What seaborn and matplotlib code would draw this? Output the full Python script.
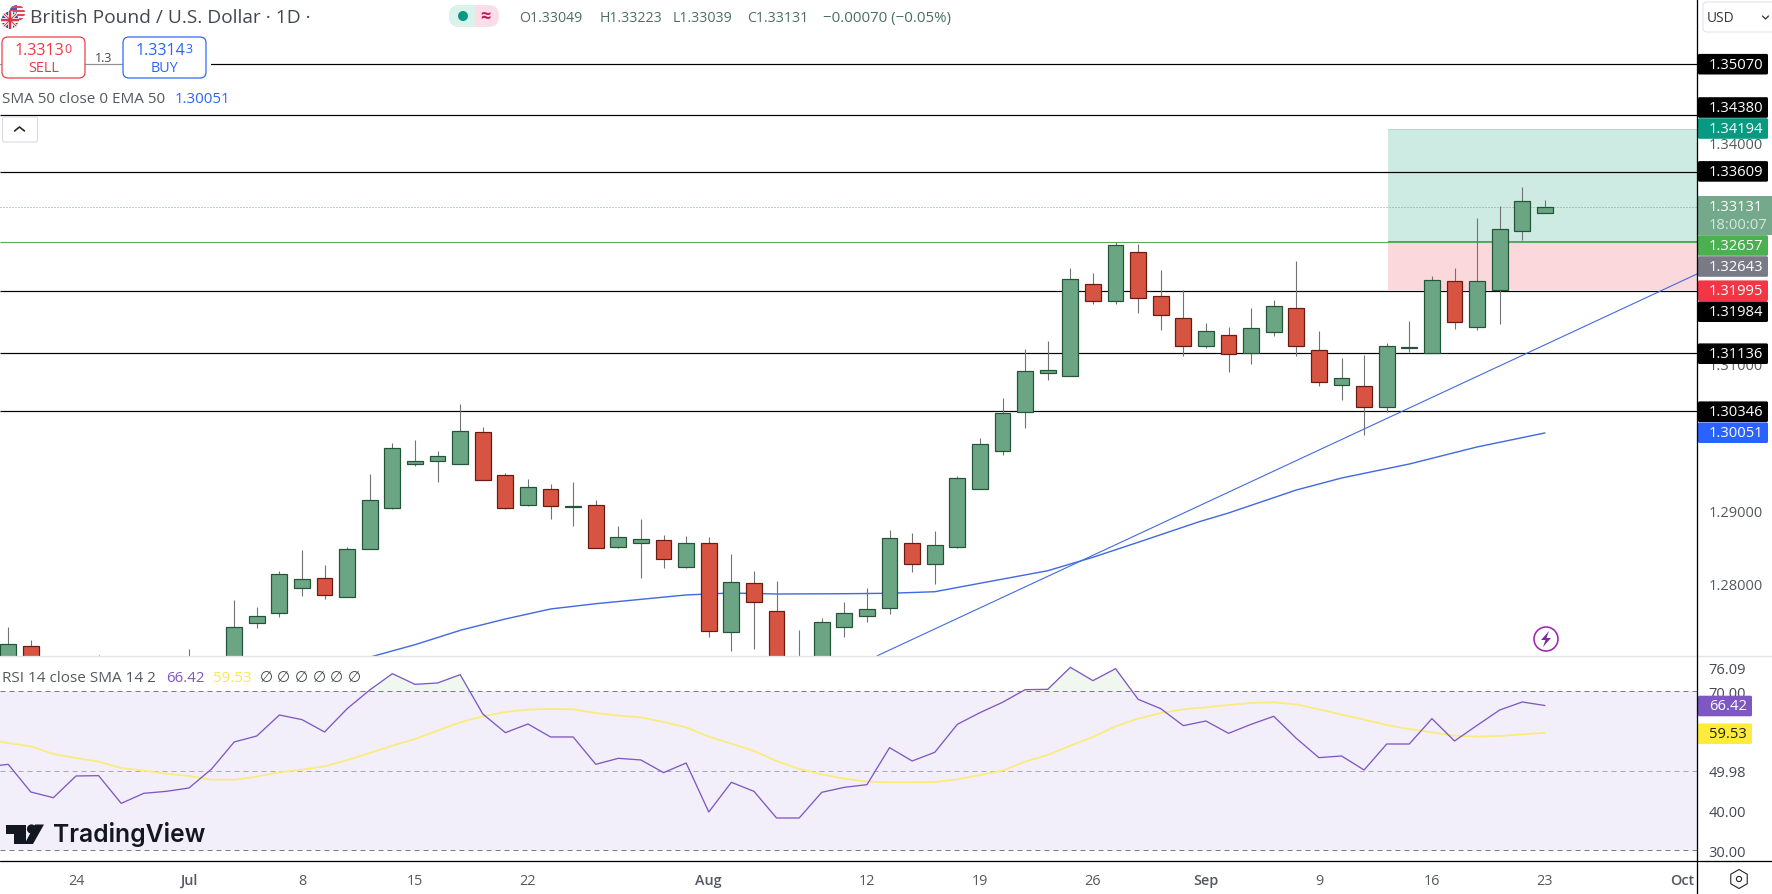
import matplotlib
matplotlib.use("Agg")
import matplotlib.pyplot as plt
from matplotlib.patches import Rectangle, FancyBboxPatch, Circle, Polygon, RegularPolygon
import pandas as pd
import seaborn as sns

# ---------- data ----------
candle_day = [-3,-2,1,5,7,8,9,10,11,12,13,14,15,16,17,18,19,20,21,22,23,24,25,26,27,28,29,30,31,32,33,34,35,36,37,38,39,40,
              41,42,43,44,45,46,47,48,49,50,51,52,53,54,55,56,57,58,59,60,61,62,63,64,65]
opens = [1.2660,1.27146,1.2680,1.2680,1.2680,1.27468,1.27595,1.27945,1.28072,1.27813,1.28467,1.29034,1.29633,1.29674,1.29633,1.30059,1.29474,1.29075,1.29283,1.29047,1.29066,1.28503,1.28548,1.28589,1.28231,1.28548,1.27346,1.28004,1.27623,1.2680,1.2690,1.27414,1.27564,1.27672,1.28548,1.28271,1.28503,1.29292,
         1.29810,1.30341,1.30872,1.30831,1.32074,1.31843,1.32510,1.31911,1.31611,1.31239,1.31380,1.31135,1.31421,1.31748,1.31176,1.30699,1.30686,1.30409,1.31212,1.31135,1.32115,1.31498,1.32002,1.32796,1.33049]
highs = [1.27409,1.27232,1.27028,1.27110,1.27777,1.27682,1.28167,1.28453,1.28253,1.28494,1.29492,1.29910,1.29955,1.29801,1.30445,1.30132,1.29506,1.29424,1.29356,1.29383,1.29138,1.28789,1.28880,1.28662,1.28648,1.28634,1.28403,1.28172,1.28036,1.27368,1.27532,1.27750,1.27940,1.28730,1.28694,1.28716,1.29460,1.29978,
         1.30527,1.31189,1.31298,1.32297,1.32229,1.32655,1.32623,1.32269,1.31993,1.31548,1.31489,1.31752,1.31857,1.32388,1.31434,1.31067,1.31112,1.31271,1.31571,1.32183,1.32292,1.32978,1.33136,1.33395,1.33223]
lows = [1.2650,1.2670,1.2660,1.2670,1.2675,1.27400,1.27550,1.27836,1.27795,1.27813,1.28467,1.29016,1.29606,1.29388,1.29633,1.29415,1.29016,1.29057,1.28880,1.28784,1.28489,1.28485,1.28081,1.28217,1.28217,1.27278,1.27087,1.27114,1.2670,1.2675,1.2680,1.27278,1.27482,1.27586,1.28163,1.27999,1.28485,1.29292,
        1.29755,1.30118,1.30776,1.30831,1.31811,1.31811,1.31689,1.31457,1.31103,1.31212,1.30885,1.30994,1.31375,1.31103,1.30695,1.30504,1.30028,1.30332,1.31158,1.31135,1.31471,1.31457,1.31539,1.32683,1.33039]
closes = [1.27173,1.2680,1.2670,1.2690,1.27405,1.27554,1.28126,1.28058,1.27849,1.28467,1.29134,1.29842,1.29665,1.29733,1.30073,1.29415,1.29034,1.29311,1.29061,1.29052,1.28489,1.28630,1.28603,1.28339,1.28548,1.27359,1.28017,1.27754,1.2680,1.2690,1.27473,1.27595,1.27650,1.28616,1.28271,1.28521,1.29433,1.29896,
          1.30318,1.30890,1.30904,1.32142,1.31852,1.32605,1.31893,1.31661,1.31239,1.31434,1.31121,1.31475,1.31775,1.31239,1.30740,1.30795,1.30409,1.31230,1.31217,1.32138,1.31566,1.32115,1.32823,1.33204,1.33131]

ema_day = [12,13.23,15,17.05,19,21,23,27,29,31,34,36,38,40,43,45,47,49.7,51,54,56,59,62,65]
ema_val = [1.26905,1.27018,1.27168,1.27368,1.27518,1.27654,1.27726,1.27845,1.27872,1.27858,1.27862,1.27868,1.27889,1.28004,1.28175,1.28358,1.28562,1.28842,1.28961,1.29274,1.29437,1.29628,1.29860,1.30051]
trend_day = [35.46,71.73]
trend_val = [1.27018,1.32215]

black_levels = [1.35070,1.34380,1.33609,1.31984,1.31136,1.30346]
entry_level = 1.32657
last_close = 1.33131
tp_level = 1.34194
sl_level = 1.31995
tool_start_day = 58.05

rsi_days = list(range(-4,66))
rsi_vals = [50.92,51.6,44.62,43.19,48.66,48.74,41.76,44.29,44.79,45.63,50.42,57.23,58.74,64.03,62.86,59.75,65.63,70.34,74.45,71.76,72.1,74.2,64.29,59.58,61.76,58.49,58.49,51.6,53.11,52.69,49.5,51.93,39.58,47.06,44.79,38.07,38.07,44.54,45.8,46.47,55.8,52.44,54.62,61.68,64.62,67.23,70.42,70.5,76.05,72.69,75.71,67.98,65.63,61.34,62.52,59.41,61.68,63.7,58.15,53.28,53.7,50.17,56.72,56.72,63.11,57.48,61.43,65.29,67.31,66.42]
sma_vals = [57.98,56.97,56.13,54.2,53.19,52.27,50.67,50,49.24,48.66,47.73,47.73,48.49,49.58,50.25,51.09,52.69,54.45,56.3,57.98,60.08,62.18,63.7,64.79,65.38,65.55,65.46,64.54,63.87,63.45,62.27,60.92,58.57,56.81,54.96,52.44,50.42,49.08,47.98,47.23,47.06,47.06,47.14,47.82,48.91,50,52.27,53.95,56.3,58.49,61.18,63.11,64.54,65.46,65.97,66.55,67.06,67.23,66.72,65.46,64.12,62.86,61.51,60.5,59.66,58.82,58.57,58.74,59.16,59.53]

date_ticks = [0,5,10,15,20,28,35,40,45,50,55,60,65,71.06]
date_labels = ["24","Jul","8","15","22","Aug","12","19","26","Sep","9","16","23","Oct"]
month_labels = ["Jul","Aug","Sep","Oct"]
price_ticks = [1.34,1.31,1.29,1.28]
rsi_ticks = [76.09,70.0,49.98,40.0,30.0]

# ---------- colours ----------
UP, UP_E = "#6BA583", "#225437"
DN, DN_E = "#D75442", "#6B1A12"
WICK = "#737375"
BLUE = "#4169E1"
PURPLE = "#7E57C2"
YELLOW = "#F9EC7C"
GRAY = "#555860"

# ---------- figure ----------
sns.set_theme(style="white")
plt.rcParams["font.family"] = ["Open Sans", "DejaVu Sans"]
W, H = 1772, 895
fig = plt.figure(figsize=(W/100, H/100), dpi=100, facecolor="white")
def pane(top, bottom, right=1697):
    return fig.add_axes([0, 1-bottom/H, right/W, (bottom-top)/H])
px = lambda n: n*0.72

ax = pane(0, 657)
ax_r = pane(657, 862)
for a in (ax, ax_r):
    a.set_facecolor("none")
    a.set_xlim(-3.363, 71.73)
    for s in a.spines.values():
        s.set_visible(False)
ax.set_ylim(1.27014, 1.35959)
ax_r.set_ylim(27.23, 78.9)

# position tool
ax.fill_between([tool_start_day, 71.73], entry_level, tp_level, color="#CDEBE3", lw=0, zorder=1)
ax.fill_between([tool_start_day, 71.73], sl_level, entry_level, color="#FBD8DC", lw=0, zorder=1)
ax.hlines(tp_level, tool_start_day, 71.73, color="#A9DCCF", lw=px(1), zorder=1.1)
ax.hlines(entry_level, tool_start_day, 71.73, color="#5C9A6B", lw=px(2), zorder=2)

ax.hlines(black_levels, -3.363, 71.73, color="black", lw=px(1.2), zorder=2)
ax.hlines(entry_level, -3.363, 71.73, color="#5DAA63", lw=px(1.1), zorder=2)
ax.hlines(last_close, -3.363, 71.73, color="#8A9A92", lw=px(1), linestyles=(0, (1, 2)), zorder=2)

sns.lineplot(x=ema_day, y=ema_val, ax=ax, color=BLUE, lw=px(1.4), sort=False, errorbar=None, zorder=3)
sns.lineplot(x=trend_day, y=trend_val, ax=ax, color=BLUE, lw=px(1.1), sort=False, errorbar=None, zorder=3)

# candles
df = pd.DataFrame({"day": candle_day, "o": opens, "h": highs, "l": lows, "c": closes})
df["up"] = df.c >= df.o
ax.vlines(df.day, df.l, df.h, color=WICK, lw=px(1.1), zorder=4)
for flag, fc, ec in ((True, UP, UP_E), (False, DN, DN_E)):
    d = df[df.up == flag]
    ax.bar(d.day, (d.c-d.o).abs(), bottom=d[["o", "c"]].min(axis=1), width=0.70,
           color=fc, edgecolor=ec, lw=px(1.2), zorder=5)

ax.set_xticks([])
ax.yaxis.tick_right()
ax.set_yticks(price_ticks, [f"{v:.5f}" for v in price_ticks])
ax.tick_params(axis="y", length=0, pad=8.4, labelsize=px(14.6), labelcolor=GRAY)
ax.set_xlabel(""); ax.set_ylabel("")

# RSI
rdf = pd.DataFrame({"day": rsi_days, "rsi": rsi_vals, "sma": sma_vals})
ax_r.axhspan(30, 70, color="#F2EFFA", lw=0, zorder=0)
ax_r.fill_between(rdf.day, 70, rdf.rsi, where=rdf.rsi > 70, interpolate=True, color="#F0F7EF", lw=0, zorder=0)
ax_r.axhline(70, color="#787B86", lw=px(1), dashes=(5, 4), zorder=1)
ax_r.axhline(30, color="#787B86", lw=px(1), dashes=(5, 4), zorder=1)
ax_r.axhline(50, color="#A9A7B4", lw=px(1), dashes=(5, 4), zorder=1)
sns.lineplot(data=rdf, x="day", y="sma", ax=ax_r, color=YELLOW, lw=px(1.8), errorbar=None, zorder=2)
sns.lineplot(data=rdf, x="day", y="rsi", ax=ax_r, color=PURPLE, lw=px(1.3), errorbar=None, zorder=3)
ax_r.set_xlabel(""); ax_r.set_ylabel("")
ax_r.yaxis.tick_right()
ax_r.set_yticks(rsi_ticks, [f"{v:.2f}" for v in rsi_ticks])
ax_r.tick_params(axis="y", length=0, pad=8.4, labelsize=px(14.6), labelcolor="#444750")
ax_r.set_xticks(date_ticks, date_labels)
ax_r.tick_params(axis="x", length=0, pad=8.6, labelsize=px(14.4), labelcolor=GRAY)
for t in ax_r.get_xticklabels():
    if t.get_text() in month_labels:
        t.set_fontweight("semibold")

# ---------- overlay in pixel coordinates ----------
ov = fig.add_axes([0, 0, 1, 1], zorder=10)
ov.set_xlim(0, W); ov.set_ylim(H, 0); ov.axis("off"); ov.patch.set_alpha(0)
T = lambda x, y, s, size=14.8, color="#4A4D55", ha="left", va="center", **k: ov.text(x, y, s, fontsize=px(size), color=color, ha=ha, va=va, **k)

# separators
ov.plot([0, W], [657, 657], color="#E0E3EB", lw=px(1.3))
ov.plot([0, W], [862, 862], color="black", lw=px(1.3))
ov.plot([1697, 1697], [0, H], color="black", lw=px(1.3))

# header: flag icon
us = Circle((17, 14), 8, fc="#F4F4F6", ec="none"); ov.add_patch(us)
for yy in (8, 12, 16, 20):
    l, = ov.plot([8, 26], [yy, yy], color="#E0475A", lw=px(2)); l.set_clip_path(us)
c = Rectangle((9, 6), 8, 8, fc="#3F5FB8", ec="none"); ov.add_patch(c); c.set_clip_path(us)
uk = Circle((10, 21), 9, fc="#2F4FA8", ec="white", lw=px(1)); ov.add_patch(uk)
for (xa, ya, xb, yb, colr, w) in ((1, 12, 19, 30, "white", 3), (1, 30, 19, 12, "white", 3),
                                  (1, 21, 19, 21, "white", 5), (10, 12, 10, 30, "white", 5),
                                  (1, 21, 19, 21, "#D8344A", 2.5), (10, 12, 10, 30, "#D8344A", 2.5),
                                  (1, 12, 19, 30, "#D8344A", 1), (1, 30, 19, 12, "#D8344A", 1)):
    l, = ov.plot([xa, xb], [ya, yb], color=colr, lw=px(w)); l.set_clip_path(uk)

T(30, 18, "British Pound / U.S. Dollar · 1D ·", size=19.2, color="#444750")

# status pill
pill = FancyBboxPatch((449, 6), 50, 22, boxstyle="round,pad=0,rounding_size=10.5", fc="#FBDDE7", ec="none")
ov.add_patch(pill)
half = Rectangle((449, 6), 26, 22, fc="#D9F2EC", ec="none"); ov.add_patch(half); half.set_clip_path(pill)
ov.add_patch(Circle((463, 17), 5, fc="#089981", ec="none"))
T(485, 17, "≈", size=18, color="#C2185B", ha="center", fontweight="bold")

# OHLC
OHLC = "#4B6E62"
T(519, 18, "O1.33049", size=14.1, color=OHLC)
T(600, 18, "H1.33223", size=14.1, color=OHLC)
T(672.7, 18, "L1.33039", size=14.1, color=OHLC)
T(747, 18, "C1.33131", size=14.1, color=OHLC)
T(822.7, 18, "−0.00070 (−0.05%)", size=15, color=OHLC)

# sell / buy
ov.add_patch(Rectangle((0, 60), 211, 10, fc="white", ec="none", zorder=1))
ov.plot([0, 122], [65, 65], color="#8F9299", lw=px(1.2), zorder=1.5)
for x0, x1, col, big, small, word in ((2, 85, "#F23645", "1.3313", "0", "SELL"), (123, 206, "#2962FF", "1.3314", "3", "BUY")):
    ov.add_patch(FancyBboxPatch((x0, 38), x1-x0, 41, boxstyle="round,pad=0,rounding_size=6", fc="white", ec=col, lw=px(1.2), zorder=2))
    xc = (x0+x1)/2
    T(xc-4.5, 51, big, size=16, color=col, ha="center", zorder=3)
    T(xc+21, 49.5, small, size=12.5, color=col, ha="left", zorder=3)
    T(xc, 68, word, size=14.4, color=col, ha="center", zorder=3)
T(104, 58, "1.3", size=12.5, color="#444750", ha="center")

T(2, 99, "SMA 50 close 0 EMA 50", size=15.2, color="#55585F")
T(174.5, 99, "1.30051", size=15, color="#2962FF")

# collapse button
ov.add_patch(FancyBboxPatch((2.5, 118), 35, 25, boxstyle="round,pad=0,rounding_size=2", fc="white", ec="#D6D8DE", lw=px(1)))
ov.plot([14.5, 19.5, 24.5], [132, 128, 132], color="#222", lw=px(1.6))

# RSI legend
T(2, 678, "RSI 14 close SMA 14 2", size=15.3, color="#55585F")
T(165.7, 678, f"{rsi_vals[-1]:.2f}", size=15, color=PURPLE)
T(213.5, 678, f"{sma_vals[-1]:.2f}", size=15, color="#FBE94B")
for xx in (266, 283.6, 301, 319, 336, 354.4):
    T(xx, 678, "∅", size=15, color="#444750", ha="center", family="DejaVu Sans")

# watermark
ov.add_patch(Polygon([(6, 825.5), (26, 825.5), (26, 845), (14.5, 845), (14.5, 835), (6, 835)], fc="#131722", ec="none"))
ov.add_patch(Circle((31.5, 830), 4.6, fc="#131722", ec="none"))
ov.add_patch(Polygon([(35, 825.5), (44, 825.5), (33, 845), (24.5, 845)], fc="#131722", ec="none"))
T(53, 835, "TradingView", size=24.7, color="#131722", family="Inter", fontweight="semibold")

# lightning icon
ov.add_patch(Circle((1546, 640), 12, fc="white", ec="#9C27B0", lw=px(1.6)))
ov.add_patch(Polygon([(1549, 632), (1541, 641), (1545.5, 641), (1543, 648), (1551, 639), (1546.5, 639)], fc="#7B2C9E", ec="none"))

# right scale: USD
ov.add_patch(FancyBboxPatch((1703, 3), 80, 30, boxstyle="round,pad=0,rounding_size=4", fc="white", ec="#E0E3EB", lw=px(1.1), clip_on=True))
T(1707, 18, "USD", size=13.8, color="#33363D")
ov.plot([1762.5, 1765.5, 1768.5], [17, 20, 17], color="#33363D", lw=px(1.3))

# right scale: badges (label, centre y, colour, text colour, right edge)
badges = [("1.35070", 65.2, "black", "white", 1768),
          ("1.34380", 108.5, "black", "white", 1768),
          ("1.34194", 129.5, "#089981", "white", 1768),
          ("1.33609", 172.4, "black", "white", 1768),
          ("1.32657", 246.5, "#4CAF50", "white", 1768),
          ("1.32643", 267.5, "#787B86", "white", 1768),
          ("1.31995", 291.7, "#F23645", "white", 1768),
          ("1.31984", 312.7, "black", "white", 1768),
          ("1.31136", 354.7, "black", "white", 1768),
          ("1.30346", 412.7, "black", "white", 1768),
          ("1.30051", 433.7, "#2962FF", "white", 1768),
          ("66.42", 707, "#7E57C2", "white", 1752),
          ("59.53", 734.7, "#FFEB3B", "#222", 1752)]
ov.add_patch(Rectangle((1698, 197.3), 74, 39, fc="#74A98B", ec="none"))
T(1709, 207.7, "1.33131", color="white")
T(1709, 225.7, "18:00:07", color="#D6E8DD")
for s, yc, fc, tc, xr in badges:
    ov.add_patch(FancyBboxPatch((1698, yc-10.3), xr-1698, 20.6, boxstyle="round,pad=0,rounding_size=1.5", fc=fc, ec="none"))
    T(1709, yc, s, color=tc)

# settings hexagon
ov.add_patch(RegularPolygon((1739, 880), 6, radius=9.5, orientation=0.0, fc="white", ec="#222", lw=px(1.1)))
ov.add_patch(Circle((1739, 880), 2.6, fc="white", ec="#222", lw=px(1.1)))

fig.savefig("out.png", dpi=100, facecolor="white")
